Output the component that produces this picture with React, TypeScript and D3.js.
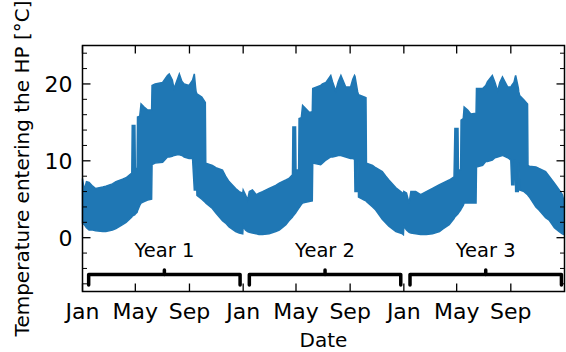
import * as d3 from "d3";

const yearStarts = ["2021-01-01", "2022-01-01", "2023-01-01"];
const yearLabels = ["Year 1", "Year 2", "Year 3"];

// [day of year, lower envelope, upper envelope] in °C
const year1: [number, number, number][] = [
  [0, 1.9, 7.7], [4, 1.7, 6.2], [9, 1.3, 7.3], [15, 1.0, 7.2], [23, 1.0, 6.7],
  [30, 0.9, 6.4], [46, 0.8, 6.6], [53, 0.8, 6.7], [68, 1.0, 7.0], [76, 1.2, 7.3],
  [91, 1.7, 7.6], [99, 2.0, 7.8], [112, 2.7, 8.4], [113, 2.8, 14.6], [119, 3.0, 14.6],
  [120, 3.1, 9.0], [124, 3.3, 9.0], [125, 3.5, 15.7], [130, 4.2, 15.8], [133, 4.5, 17.4],
  [140, 4.7, 17.0], [148, 4.9, 16.6], [157, 5.0, 16.6], [158, 9.5, 19.8], [165, 9.7, 20.0],
  [182, 9.8, 20.2], [193, 10.5, 21.1], [197, 10.5, 21.3], [204, 10.6, 20.5], [208, 10.7, 19.4],
  [215, 10.8, 20.5], [220, 10.8, 21.3], [226, 10.7, 20.3], [231, 10.5, 20.0], [242, 10.3, 19.8],
  [250, 10.3, 20.5], [254, 6.2, 21.3], [257, 6.2, 19.5], [258, 10.0, 19.0], [260, 5.5, 18.7],
  [271, 5.0, 18.3], [279, 4.6, 17.6], [280, 4.5, 9.7], [295, 3.8, 9.4], [303, 3.2, 9.1],
  [318, 2.2, 8.8], [325, 1.9, 8.0], [333, 1.4, 7.3], [348, 0.8, 6.4], [356, 0.6, 6.0],
  [364, 0.5, 5.8],
];

const year2: [number, number, number][] = [
  [0, 1.5, 6.2], [5, 1.0, 5.6], [10, 0.8, 4.9], [14, 0.7, 6.0], [21, 0.6, 6.2],
  [30, 0.5, 5.6], [36, 0.4, 5.8], [44, 0.4, 6.0], [59, 0.5, 6.4], [74, 0.8, 6.8],
  [82, 1.0, 7.1], [97, 1.7, 7.5], [104, 2.2, 7.7], [112, 2.7, 8.2], [113, 2.8, 14.4],
  [119, 3.2, 14.4], [120, 3.3, 8.8], [126, 3.8, 8.8], [127, 3.9, 15.5], [132, 4.3, 15.6],
  [135, 4.5, 17.2], [142, 4.6, 16.8], [150, 4.7, 16.3], [157, 4.8, 16.4], [158, 9.7, 19.4],
  [176, 9.5, 19.8], [180, 9.7, 20.0], [188, 10.1, 20.2], [199, 10.5, 21.1], [203, 10.5, 20.3],
  [210, 10.6, 19.1], [216, 10.7, 20.3], [222, 10.7, 21.1], [233, 10.5, 19.6], [244, 10.3, 19.6],
  [249, 10.3, 20.6], [253, 10.2, 21.1], [254, 6.0, 21.0], [260, 6.0, 19.0], [261, 10.0, 18.8],
  [262, 5.3, 18.6], [275, 4.9, 18.3], [279, 4.8, 18.2], [280, 4.7, 9.7], [294, 4.0, 9.4],
  [301, 3.6, 9.1], [316, 2.4, 8.6], [324, 1.9, 8.0], [331, 1.5, 7.5], [347, 0.8, 6.5],
  [362, 0.5, 5.8], [364, 0.4, 5.6],
];

const year3: [number, number, number][] = [
  [0, 1.5, 6.0], [6, 1.0, 5.8], [12, 0.7, 4.5], [16, 0.6, 6.0], [27, 0.5, 6.0],
  [38, 0.4, 5.6], [51, 0.4, 6.0], [65, 0.5, 6.4], [81, 0.8, 6.9], [88, 1.1, 7.1],
  [103, 1.7, 7.5], [114, 2.5, 7.9], [116, 2.7, 14.2], [123, 3.1, 14.2], [124, 3.2, 8.8],
  [129, 3.6, 8.8], [130, 3.7, 15.3], [135, 4.2, 15.5], [137, 4.5, 17.0], [145, 4.5, 16.6],
  [152, 4.5, 16.1], [164, 4.5, 16.2], [165, 9.2, 19.4], [179, 9.4, 19.4], [186, 9.9, 19.8],
  [190, 9.9, 20.3], [201, 10.1, 21.1], [207, 10.4, 20.2], [213, 10.5, 19.1], [218, 10.6, 20.2],
  [224, 10.7, 20.9], [236, 10.4, 19.6], [243, 10.1, 19.6], [245, 6.9, 19.8], [250, 6.9, 20.2],
  [251, 10.1, 20.4], [253, 10.1, 20.9], [254, 6.0, 21.1], [260, 6.0, 19.5], [261, 9.8, 19.0],
  [263, 6.2, 18.5], [273, 6.0, 17.9], [281, 5.6, 17.4], [282, 5.5, 9.4], [285, 5.3, 9.3],
  [300, 4.0, 9.2], [307, 3.6, 9.0], [322, 2.6, 8.6], [330, 2.3, 8.0], [342, 1.3, 7.1],
  [353, 0.8, 6.2], [360, 0.5, 5.6], [364, 0.4, 4.7],
];

const yMajorTicks = [0, 10, 20];
const yMinorTicks = [-6, -4, -2, 2, 4, 6, 8, 12, 14, 16, 18, 22, 24];
const bracketDays = [14, 358];

const width = 566;
const height = 352;
const left = 82.5;
const right = 564.5;
const top = 45.5;
const bottom = 291.5;
const blue = "#1f77b4";
const font = "DejaVu Sans";

type Point = { date: Date; lo: number; hi: number };

export default function App() {
  const starts = yearStarts.map((s) => new Date(s + "T00:00:00"));
  const series: Point[] = [year1, year2, year3].flatMap((year, i) =>
    year.map(([day, lo, hi]) => ({
      date: d3.timeDay.offset(starts[i], day),
      lo,
      hi,
    }))
  );

  const end = d3.timeHour.offset(d3.timeDay.offset(starts[2], 364), 23);
  const x = d3.scaleTime().domain([starts[0], end]).range([left, right]);
  const y = d3.scaleLinear().domain([-7, 25]).range([bottom, top]);

  const area = d3
    .area<Point>()
    .x((d) => x(d.date))
    .y0((d) => y(d.lo))
    .y1((d) => y(d.hi));

  const xTicks = x.ticks(d3.timeMonth.every(4)!);
  const fmt = d3.timeFormat("%b");

  const major = 8;
  const minor = 4.5;

  return (
    <>
      <style>{"body{margin:0}"}</style>
      <svg width={width} height={height} style={{ display: "block" }}>
        <path d={area(series) ?? ""} fill={blue} stroke={blue} strokeWidth={1.5} />

        {/* year brackets */}
        {starts.map((s, i) => {
          const x1 = x(d3.timeDay.offset(s, bracketDays[0]));
          const x2 = x(d3.timeDay.offset(s, bracketDays[1]));
          const xm = (x1 + x2) / 2;
          const yb = 274.5;
          return (
            <g key={i}>
              <path
                d={`M${x1},285 L${x1},${yb} L${x2},${yb} L${x2},285`}
                fill="none"
                stroke="black"
                strokeWidth={3.5}
                strokeLinejoin="round"
                strokeLinecap="round"
              />
              <line x1={xm} x2={xm} y1={yb} y2={270} stroke="black" strokeWidth={3.5} strokeLinecap="round" />
              <text x={xm} y={256.5} textAnchor="middle" fontFamily={font} fontSize={19.5}>
                {yearLabels[i]}
              </text>
            </g>
          );
        })}

        {/* frame */}
        <rect x={left} y={top} width={right - left} height={bottom - top} fill="none" stroke="black" strokeWidth={1.5} />

        {/* y ticks */}
        {yMajorTicks.map((t) => (
          <g key={"ym" + t}>
            <line x1={left} x2={left + major} y1={y(t)} y2={y(t)} stroke="black" strokeWidth={1.3} />
            <line x1={right} x2={right - major} y1={y(t)} y2={y(t)} stroke="black" strokeWidth={1.3} />
            <text x={left - 10} y={y(t)} dy="0.36em" textAnchor="end" fontFamily={font} fontSize={22}>
              {t}
            </text>
          </g>
        ))}
        {yMinorTicks.map((t) => (
          <g key={"yn" + t}>
            <line x1={left} x2={left + minor} y1={y(t)} y2={y(t)} stroke="black" strokeWidth={1} />
            <line x1={right} x2={right - minor} y1={y(t)} y2={y(t)} stroke="black" strokeWidth={1} />
          </g>
        ))}

        {/* x ticks */}
        {xTicks.map((t, i) => (
          <g key={"x" + i}>
            <line x1={x(t)} x2={x(t)} y1={bottom} y2={bottom - major} stroke="black" strokeWidth={1.3} />
            <line x1={x(t)} x2={x(t)} y1={top} y2={top + major} stroke="black" strokeWidth={1.3} />
            <text x={x(t)} y={319} textAnchor="middle" fontFamily={font} fontSize={22}>
              {fmt(t)}
            </text>
          </g>
        ))}

        <text x={(left + right) / 2} y={347} textAnchor="middle" fontFamily={font} fontSize={20}>
          Date
        </text>
        <text
          transform={`translate(29,${(top + bottom) / 2}) rotate(-90)`}
          textAnchor="middle"
          fontFamily={font}
          fontSize={20}
        >
          Temperature entering the HP [°C]
        </text>
      </svg>
    </>
  );
}
